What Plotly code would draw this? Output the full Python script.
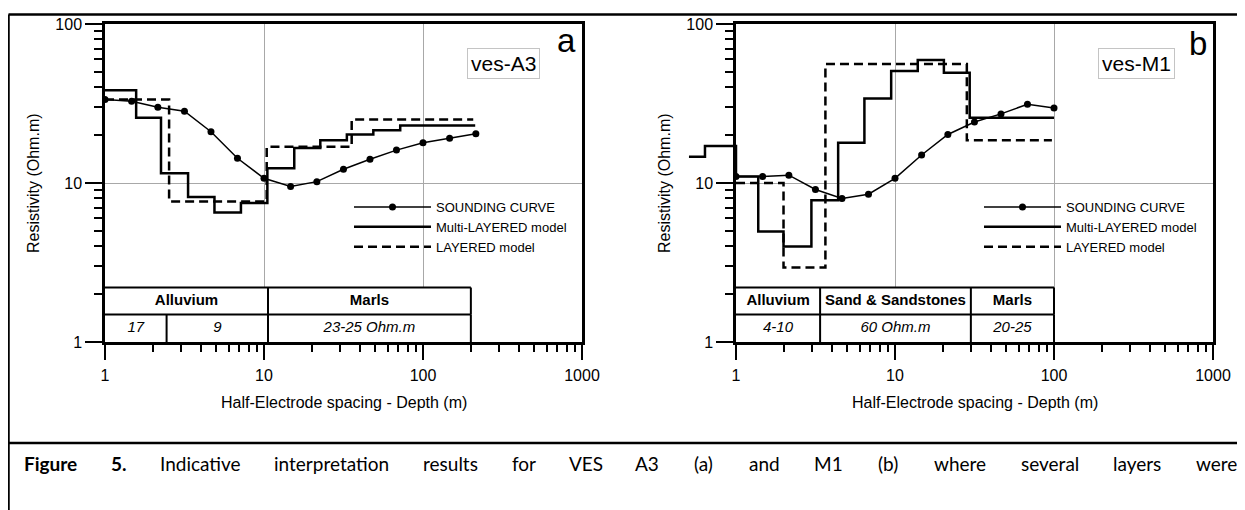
import numpy as np
import plotly.graph_objects as go

FONT = "Arial, Liberation Sans, sans-serif"
CAPFONT = "Lato, Open Sans, sans-serif"
W, H = 1245, 510
OX, OY = 8, 8          # the page body margin shifts the figure by this much

# ---------------- panel a : ves-A3 ----------------
a_sound_x = [1, 1.47, 2.15, 3.16, 4.64, 6.81, 10, 14.7, 21.5, 31.6, 46.4, 68.1, 100, 147, 215]
a_sound_y = [33.5, 32.7, 30.0, 28.3, 21.0, 14.3, 10.7, 9.5, 10.2, 12.2, 14.1, 16.1, 17.9, 19.1, 20.4]
a_multi_x = [1, 1.57, 2.25, 3.33, 4.88, 7.16, 10.5, 15.5, 22.6, 33.2, 48.7, 71.9, 213]
a_multi_y = [38.3, 25.7, 11.5, 8.16, 6.53, 7.48, 12.4, 16.6, 18.6, 20.2, 21.5, 23.0, 23.0]
a_layer_x = [1, 2.53, 10.4, 35.6, 207]
a_layer_y = [33.5, 7.66, 16.9, 25.1, 25.1]
a_top_bounds = [1, 10.6, 200]
a_top_labels = ["Alluvium", "Marls"]
a_bot_bounds = [1, 2.44, 10.6, 200]
a_bot_labels = ["17", "9", "23-25 Ohm.m"]

# ---------------- panel b : ves-M1 ----------------
b_sound_x = [1, 1.47, 2.15, 3.16, 4.64, 6.81, 10, 14.7, 21.5, 31.6, 46.4, 68.1, 100]
b_sound_y = [11.0, 11.0, 11.2, 9.1, 8.0, 8.5, 10.7, 15.0, 20.2, 24.2, 27.2, 31.3, 29.6]
b_multi_x = [0.506, 0.638, 1, 1.38, 1.99, 2.98, 4.39, 6.42, 9.46, 13.9, 20.3, 29.5, 100]
b_multi_y = [14.6, 17.1, 11.0, 4.95, 3.98, 7.78, 17.9, 34.0, 50.6, 59.3, 49.4, 25.7, 25.7]
b_layer_x = [1, 1.99, 3.65, 28.3, 97]
b_layer_y = [10.0, 2.94, 56.0, 18.6, 18.6]
b_bounds = [1, 3.38, 30, 100]
b_top_labels = ["Alluvium", "Sand & Sandstones", "Marls"]
b_bot_labels = ["4-10", "60 Ohm.m", "20-25"]

table_rows = [1, 1.49, 2.2]   # resistivity bounds of the two table rows

axis_titles = ["Half-Electrode spacing - Depth (m)", "Resistivity (Ohm.m)"]
panel_letters = ["a", "b"]
panel_names = ["ves-A3", "ves-M1"]
legend_names = ["SOUNDING CURVE", "Multi-LAYERED model", "LAYERED model"]
caption_words = ["<b>Figure</b>", "<b>5.</b>", "Indicative", "interpretation", "results", "for",
                 "VES", "A3", "(a)", "and", "M1", "(b)", "where", "several", "layers", "were"]
# approximate word widths (em) used only to justify the caption line
caption_em = [2.574, 0.774, 3.947, 5.738, 2.718, 1.181, 1.513, 1.086, 1.085, 1.529, 1.362,
              1.131, 2.585, 2.915, 2.399, 2.06]


def fx(p):
    return (p - OX) / W


def fy(p):
    return 1 - (p - OY) / H


# ---------------- layout geometry ----------------
xa_dom = [fx(105), fx(582)]
xb_dom = [fx(736), fx(1213)]
y_dom = [fy(342), fy(24)]
EXT = 0.35
xe_dom = [xb_dom[0] - (xb_dom[1] - xb_dom[0]) * EXT / 3, xb_dom[1]]

fig = go.Figure()

LW = 2.5
DASH = "9px,5px"


def add_panel(xr, yr, sx, sy, mx, my, lx, ly, legend, mxr=None, myr=None):
    fig.add_trace(go.Scatter(x=sx, y=sy, mode="lines+markers", name=legend_names[0],
                             line=dict(color="black", width=1.5),
                             marker=dict(color="black", size=7),
                             xaxis=xr, yaxis=yr, legend=legend))
    fig.add_trace(go.Scatter(x=mx, y=my, mode="lines", name=legend_names[1], line_shape="hv",
                             line=dict(color="black", width=LW),
                             xaxis=mxr or xr, yaxis=myr or yr, legend=legend))
    fig.add_trace(go.Scatter(x=lx, y=ly, mode="lines", name=legend_names[2], line_shape="hv",
                             line=dict(color="black", width=LW, dash=DASH),
                             xaxis=xr, yaxis=yr, legend=legend))


def add_table(xr, yr, top_b, top_l, bot_b, bot_l):
    x0, x1 = top_b[0], top_b[-1]
    r0, r1, r2 = table_rows
    fig.add_trace(go.Scatter(x=[x0, x1, x1, x0, x0], y=[r0, r0, r2, r2, r0], mode="lines",
                             fill="toself", fillcolor="white", line=dict(width=0),
                             xaxis=xr, yaxis=yr, showlegend=False, hoverinfo="skip"))
    lx, ly = [], []
    for yy in (r1, r2):
        lx += [x0, x1, None]
        ly += [yy, yy, None]
    for b in top_b[1:]:
        lx += [b, b, None]
        ly += [r1, r2, None]
    for b in bot_b[1:]:
        lx += [b, b, None]
        ly += [r0, r1, None]
    fig.add_trace(go.Scatter(x=lx, y=ly, mode="lines", line=dict(color="black", width=2),
                             xaxis=xr, yaxis=yr, showlegend=False, hoverinfo="skip"))
    tb = np.array(top_b, float)
    bb = np.array(bot_b, float)
    fig.add_trace(go.Scatter(x=np.sqrt(tb[:-1] * tb[1:]), y=[np.sqrt(r1 * r2)] * len(top_l),
                             mode="text", text=top_l,
                             textfont=dict(family=FONT, size=15, color="black", weight="bold"),
                             xaxis=xr, yaxis=yr, showlegend=False, hoverinfo="skip"))
    fig.add_trace(go.Scatter(x=np.sqrt(bb[:-1] * bb[1:]), y=[np.sqrt(r0 * r1)] * len(bot_l),
                             mode="text", text=bot_l,
                             textfont=dict(family=FONT, size=15, color="black", style="italic"),
                             xaxis=xr, yaxis=yr, showlegend=False, hoverinfo="skip"))


add_table("x", "y", a_top_bounds, a_top_labels, a_bot_bounds, a_bot_labels)
add_table("x2", "y2", b_bounds, b_top_labels, b_bounds, b_bot_labels)
add_panel("x", "y", a_sound_x, a_sound_y, a_multi_x, a_multi_y, a_layer_x, a_layer_y, "legend")
add_panel("x2", "y2", b_sound_x, b_sound_y, b_multi_x, b_multi_y, b_layer_x, b_layer_y, "legend2",
          mxr="x3", myr="y3")

tickfont = dict(family=FONT, size=16, color="black")
common_x = dict(type="log", range=[0, 3], dtick=1, exponentformat="none",
                showline=True, linecolor="black", linewidth=LW, mirror=True,
                ticks="outside", ticklen=15, tickwidth=2, tickcolor="black",
                minor=dict(ticks="outside", ticklen=7, tickwidth=2, tickcolor="black",
                           dtick="D1", showgrid=False),
                showgrid=True, gridcolor="#a8a8a8", gridwidth=1, zeroline=False,
                tickfont=tickfont, ticklabelstandoff=2, automargin=False)
common_y = dict(type="log", range=[0, 2], dtick=1, exponentformat="none", domain=y_dom,
                showline=True, linecolor="black", linewidth=LW, mirror=True,
                ticks="outside", ticklen=17, tickwidth=2, tickcolor="black",
                minor=dict(ticks="outside", ticklen=8, tickwidth=2, tickcolor="black",
                           dtick="D1", showgrid=False),
                showgrid=True, gridcolor="#a8a8a8", gridwidth=1, zeroline=False,
                tickfont=tickfont, ticklabelstandoff=0, automargin=False)

legend_common = dict(xanchor="left", yanchor="top", font=dict(family=FONT, size=13, color="black"),
                     bgcolor="rgba(0,0,0,0)", borderwidth=0, itemwidth=77, tracegroupgap=0)

fig.update_layout(
    template="none",
    width=W, height=H, margin=dict(l=0, r=0, t=0, b=0, pad=0, autoexpand=False),
    paper_bgcolor="white", plot_bgcolor="rgba(0,0,0,0)",
    xaxis=dict(common_x, domain=xa_dom, anchor="y"),
    yaxis=dict(common_y, anchor="x"),
    xaxis2=dict(common_x, domain=xb_dom, anchor="y2"),
    yaxis2=dict(common_y, anchor="x2"),
    xaxis3=dict(type="log", range=[-EXT, 3], domain=xe_dom, anchor="y3", visible=False,
                showgrid=False, automargin=False),
    yaxis3=dict(type="log", range=[0, 2], domain=y_dom, anchor="x3", visible=False,
                showgrid=False, automargin=False),
    legend=dict(legend_common, x=fx(349), y=fy(192)),
    legend2=dict(legend_common, x=fx(979), y=fy(192)),
    showlegend=True,
)


def pann(text, x, y, size, family=FONT, **kw):
    d = dict(text=text, x=fx(x), y=fy(y), xref="paper", yref="paper", showarrow=False,
             xanchor="center", yanchor="middle", font=dict(family=family, size=size, color="black"))
    d.update(kw)
    return d


ann = []
for cx, ycx in ((343.5, 33), (974.5, 664)):
    ann.append(pann(axis_titles[0], cx, 402, 16))
    ann.append(pann(axis_titles[1], ycx, 183, 16, textangle=-90))
for (lx, ly), t in zip(((566, 41), (1198, 44)), panel_letters):
    ann.append(pann(t, lx, ly, 33))
for (bx, by), t in zip(((503.5, 63.5), (1136.5, 63.5)), panel_names):
    ann.append(pann(t, bx, by, 21, bgcolor="white", bordercolor="#c4c4c4", borderwidth=1,
                    borderpad=3))

# justified caption line: words spread between the left and right text edges
cap_left, cap_right, cap_px = 25.0, 1237.0, 19.8
wid = np.array(caption_em) * cap_px
gap = (cap_right - cap_left - wid.sum()) / (len(wid) - 1)
starts = cap_left + np.concatenate([[0], np.cumsum(wid[:-1] + gap)])
for wtxt, s, w in zip(caption_words, starts, wid):
    ann.append(pann(wtxt, s + w / 2, 463, 19, family=CAPFONT))
fig.update_layout(annotations=ann)

shapes = [
    dict(type="line", xref="paper", yref="paper", x0=fx(8.5), x1=1.01, y0=fy(14.5), y1=fy(14.5),
         line=dict(color="black", width=2.5)),
    dict(type="line", xref="paper", yref="paper", x0=fx(8.5), x1=fx(8.5), y0=fy(14.5), y1=-0.05,
         line=dict(color="black", width=2.5)),
    dict(type="line", xref="paper", yref="paper", x0=fx(8.5), x1=1.01, y0=fy(443), y1=fy(443),
         line=dict(color="black", width=2.5)),
]
fig.update_layout(shapes=shapes)

fig.write_html("out.html")
